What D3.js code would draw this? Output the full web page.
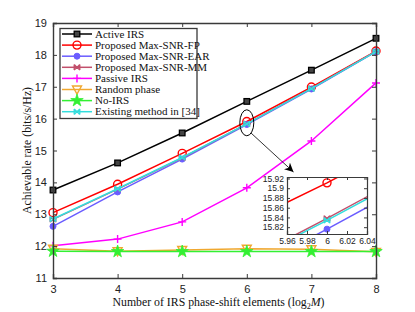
<!DOCTYPE html>
<html><head><meta charset="utf-8">
<script src="https://cdn.jsdelivr.net/npm/d3@7"></script>
<style>body{margin:0;background:#fff}svg{display:block}</style>
</head><body>
<script>
const xValues = [3, 4, 5, 6, 7, 8];
const activeIRS   = [13.76, 14.61, 15.55, 16.54, 17.52, 18.52];
const maxSnrFP    = [13.05, 13.94, 14.91, 15.911, 16.99, 18.12];
const maxSnrEAR   = [12.62, 13.70, 14.73, 15.816, 16.93, 18.10];
const maxSnrMM    = [12.84, 13.79, 14.77, 15.838, 16.95, 18.11];
const passiveIRS  = [12.01, 12.22, 12.76, 13.83, 15.30, 17.12];
const randomPhase = [11.92, 11.84, 11.88, 11.92, 11.90, 11.82];
const noIRS       = [11.84, 11.83, 11.83, 11.83, 11.83, 11.83];
const existing34  = [12.85, 13.80, 14.78, 15.834, 16.94, 18.10];
const seriesNames = ["Active IRS","Proposed Max-SNR-FP","Proposed Max-SNR-EAR","Proposed Max-SNR-MM","Passive IRS","Random phase","No-IRS","Existing method in [34]"];
const seriesColors = ["#000000","#ff0000","#6a5cff","#c2506c","#ff00ff","#f0a830","#33f033","#33dddd"];
const seriesMarkers = ["square","circle","dot","x","plus","triangle","star","x"];
const yTicks = [11,12,13,14,15,16,17,18,19];
const xTicks = [3,4,5,6,7,8];
const insetXTicks = [5.96,5.98,6,6.02,6.04];
const insetYTicks = [15.82,15.84,15.86,15.88,15.9,15.92];

const allSeries = [activeIRS,maxSnrFP,maxSnrEAR,maxSnrMM,passiveIRS,randomPhase,noIRS,existing34];
const W=415,H=312;
const svg=d3.select("body").append("svg").attr("width",W).attr("height",H);
const L=53,R=376,T=23,B=278;
const x=d3.scaleLinear().domain([3,8]).range([L,R]);
const y=d3.scaleLinear().domain([11,19]).range([B,T]);
const axisColor="#3a3a3a";
const sans="'Liberation Sans', Arial, sans-serif";
const serif="'Liberation Serif','DejaVu Serif',serif";

function marker(g,type,cx,cy,color){
  const s=g.append("g").attr("transform",`translate(${cx},${cy})`);
  if(type==="square") s.append("rect").attr("x",-2.8).attr("y",-2.8).attr("width",5.6).attr("height",5.6).attr("fill","#444").attr("stroke",color).attr("stroke-width",1.3);
  else if(type==="circle") s.append("circle").attr("r",4).attr("fill","none").attr("stroke",color).attr("stroke-width",1.4);
  else if(type==="dot") s.append("circle").attr("r",3).attr("fill",color).attr("stroke",color);
  else if(type==="x") s.append("path").attr("d","M-2.8,-2.8L2.8,2.8M-2.8,2.8L2.8,-2.8M-2.8,-2.8V2.8M2.8,-2.8V2.8").attr("stroke",color).attr("stroke-width",1.3).attr("fill","none");
  else if(type==="plus") s.append("path").attr("d","M-4,0H4M0,-4V4").attr("stroke",color).attr("stroke-width",1.4);
  else if(type==="triangle") s.append("path").attr("d","M-4.5,-3.5L4.5,-3.5L0,4.5Z").attr("fill","none").attr("stroke",color).attr("stroke-width",1.4);
  else if(type==="star") s.append("path").attr("d",d3.symbol(d3.symbolStar,48)()).attr("fill",color).attr("stroke",color).attr("stroke-width",0.8);
}

// main plot
const line=d3.line().x((d,i)=>x(xValues[i])).y(d=>y(d));
const plot=svg.append("g");
allSeries.forEach((vals,k)=>{
  plot.append("path").datum(vals).attr("d",line).attr("fill","none").attr("stroke",seriesColors[k]).attr("stroke-width",1.5);
  vals.forEach((v,i)=>marker(plot,seriesMarkers[k],x(xValues[i]),y(v),seriesColors[k]));
});

// axes
const ax=svg.append("g");
ax.append("g").attr("transform",`translate(0,${B})`).call(d3.axisBottom(x).tickValues(xTicks).tickSize(-4).tickPadding(7).tickFormat(d3.format("d")));
ax.append("g").attr("transform",`translate(0,${T})`).call(d3.axisTop(x).tickValues(xTicks).tickSize(-4).tickFormat(""));
ax.append("g").attr("transform",`translate(${L},0)`).call(d3.axisLeft(y).tickValues(yTicks).tickSize(-4).tickPadding(6).tickFormat(d3.format("d")));
ax.append("g").attr("transform",`translate(${R},0)`).call(d3.axisRight(y).tickValues(yTicks).tickSize(-4).tickFormat(""));
ax.selectAll("path.domain").attr("stroke",axisColor).attr("stroke-width",1.4);
ax.selectAll(".tick line").attr("stroke",axisColor).attr("stroke-width",1);
ax.selectAll(".tick text").attr("font-family",sans).attr("font-size",11).attr("fill","#222");

svg.append("text").attr("x",(L+R)/2+4).attr("y",306).attr("text-anchor","middle").attr("font-family",serif).attr("font-size",11.8).attr("fill","#111")
  .html("Number of IRS phase-shift elements (log<tspan dy='3' font-size='8'>2</tspan><tspan dy='-3' font-style='italic'>M</tspan>)");
svg.append("text").attr("transform",`translate(31,${(T+B)/2}) rotate(-90)`).attr("text-anchor","middle").attr("font-family",serif).attr("font-size",11.8).attr("fill","#111")
  .text("Achievable rate (bits/s/Hz)");

// legend
const lg=svg.append("g");
lg.append("rect").attr("x",60).attr("y",28.5).attr("width",137).attr("height",90).attr("fill","#fff").attr("stroke",axisColor).attr("stroke-width",1.3);
seriesNames.forEach((n,k)=>{
  const yy=34+k*11.1;
  lg.append("line").attr("x1",62).attr("x2",92).attr("y1",yy).attr("y2",yy).attr("stroke",seriesColors[k]).attr("stroke-width",1.5);
  marker(lg,seriesMarkers[k],77,yy,seriesColors[k]);
  lg.append("text").attr("x",95).attr("y",yy+3.7).attr("font-family",serif).attr("font-size",11).attr("fill","#111").text(n);
});

// ellipse + arrow
svg.append("defs").append("marker").attr("id","ah").attr("viewBox","0 0 10 10").attr("refX",10).attr("refY",5)
  .attr("markerWidth",9).attr("markerHeight",9).attr("orient","auto").attr("markerUnits","userSpaceOnUse")
  .append("path").attr("d","M0,0L10,5L0,10L3,5Z").attr("fill","#000");
svg.append("ellipse").attr("cx",x(6)).attr("cy",y(15.87)).attr("rx",7).attr("ry",13).attr("fill","none").attr("stroke","#000").attr("stroke-width",1);
svg.append("line").attr("x1",251).attr("y1",133).attr("x2",293.5).attr("y2",172).attr("stroke","#000").attr("stroke-width",0.8).attr("marker-end","url(#ah)");

// inset
const iL=287,iR=367,iT=177,iB=234;
const ix=d3.scaleLinear().domain([5.96,6.04]).range([iL,iR]);
const iy=d3.scaleLinear().domain([15.806,15.923]).range([iB,iT]);
const inset=svg.append("g");
inset.append("rect").attr("x",iL).attr("y",iT).attr("width",iR-iL).attr("height",iB-iT).attr("fill","#fff");
svg.append("clipPath").attr("id","ic").append("rect").attr("x",iL).attr("y",iT).attr("width",iR-iL).attr("height",iB-iT);
const ig=inset.append("g").attr("clip-path","url(#ic)");
const iline=d3.line().x((d,i)=>ix(xValues[i])).y(d=>iy(d));
allSeries.forEach((vals,k)=>{
  ig.append("path").datum(vals).attr("d",iline).attr("fill","none").attr("stroke",seriesColors[k]).attr("stroke-width",1.5);
  vals.forEach((v,i)=>marker(ig,seriesMarkers[k],ix(xValues[i]),iy(v),seriesColors[k]));
});
const iax=inset.append("g");
iax.append("g").attr("transform",`translate(0,${iB})`).call(d3.axisBottom(ix).tickValues(insetXTicks).tickSize(-3).tickPadding(4).tickFormat(d3.format("")));
iax.append("g").attr("transform",`translate(0,${iT})`).call(d3.axisTop(ix).tickValues(insetXTicks).tickSize(-3).tickFormat(""));
iax.append("g").attr("transform",`translate(${iL},0)`).call(d3.axisLeft(iy).tickValues(insetYTicks).tickSize(-3).tickPadding(3).tickFormat(d3.format("")));
iax.append("g").attr("transform",`translate(${iR},0)`).call(d3.axisRight(iy).tickValues(insetYTicks).tickSize(-3).tickFormat(""));
iax.selectAll("path.domain").attr("stroke",axisColor).attr("stroke-width",1.2);
iax.selectAll(".tick line").attr("stroke",axisColor);
iax.selectAll(".tick text").attr("font-family",sans).attr("font-size",8.5).attr("fill","#222");
</script>
</body></html>
